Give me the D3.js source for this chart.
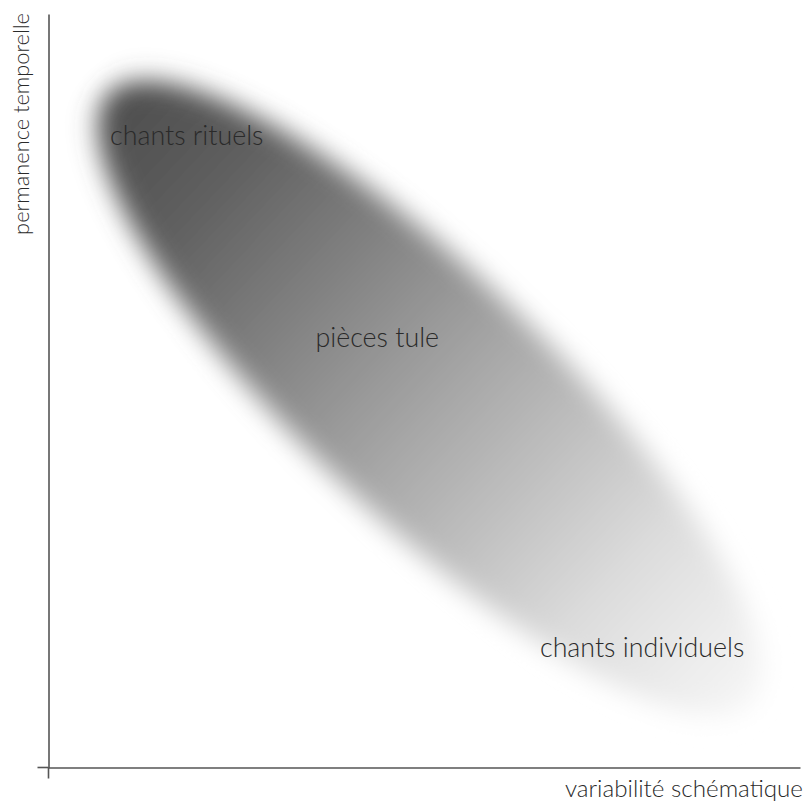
<!DOCTYPE html>
<html>
<head>
<meta charset="utf-8">
<script src="https://cdn.jsdelivr.net/npm/d3@7"></script>
<style>
  html, body { margin: 0; padding: 0; background: #fff; }
  svg { display: block; }
  text { font-family: Lato, "Open Sans", sans-serif; font-weight: 300; fill: #2a2a2a; }
</style>
</head>
<body>
<script>
// ---- data ----
const categories = ["chants rituels", "pièces tule", "chants individuels"];
const labelX = [18.4, 43.75, 79.0];   // variabilité schématique (label centre)
const labelY = [82.6, 55.8, 14.6];    // permanence temporelle (label baseline)
const cloudTipA = [8.0, 89.5];        // ellipse major-axis end (top-left)
const cloudTipB = [93.5, 8.5];        // ellipse major-axis end (bottom-right)
const cloudHalfWidth = 16.3;          // minor semi-axis, in x units
const gradientStops = [0, 0.15, 0.5, 0.8, 1];
const gradientGreys = ["#4c4c4c", "#5e5e5e", "#a4a4a4", "#dddddd", "#f6f6f6"];
const xTitle = "variabilité schématique";
const yTitle = "permanence temporelle";

const W = 806, H = 803;
const svg = d3.select("body").append("svg").attr("width", W).attr("height", H);

const x = d3.scaleLinear().domain([0, 100]).range([48.5, 800]);
const y = d3.scaleLinear().domain([0, 100]).range([767.5, 14]);

const defs = svg.append("defs");
const grad = defs.append("linearGradient").attr("id", "cloudGrad")
  .attr("x1", 0).attr("y1", 0).attr("x2", 1).attr("y2", 0);
gradientStops.forEach((s, i) => grad.append("stop").attr("offset", s).attr("stop-color", gradientGreys[i]));
const filt = defs.append("filter").attr("id", "blur")
  .attr("x", "-30%").attr("y", "-60%").attr("width", "160%").attr("height", "220%");
filt.append("feGaussianBlur").attr("stdDeviation", 13);

// cloud ellipse
const ax = x(cloudTipA[0]), ay = y(cloudTipA[1]);
const bx = x(cloudTipB[0]), by = y(cloudTipB[1]);
const cx = (ax + bx) / 2, cy = (ay + by) / 2;
const rx = Math.hypot(bx - ax, by - ay) / 2;
const ry = x(cloudHalfWidth) - x(0);
const ang = Math.atan2(by - ay, bx - ax) * 180 / Math.PI;
svg.append("g")
  .attr("transform", `translate(${cx},${cy}) rotate(${ang})`)
  .append("ellipse")
  .attr("cx", 0).attr("cy", 0).attr("rx", rx).attr("ry", ry)
  .attr("fill", "url(#cloudGrad)")
  .attr("filter", "url(#blur)");

// axes
const xAxis = d3.axisBottom(x).tickValues([]).tickSizeOuter(0);
const yAxis = d3.axisLeft(y).tickValues([]).tickSizeOuter(0);
const gx = svg.append("g").attr("transform", `translate(0,${y(0)})`).call(xAxis);
const gy = svg.append("g").attr("transform", `translate(${x(0)},0)`).call(yAxis);
[gx, gy].forEach(g => g.select(".domain").attr("stroke", "#555").attr("stroke-width", 1.6));
// axis extensions past origin
svg.append("line").attr("x1", x(0) - 11).attr("x2", x(0)).attr("y1", y(0)).attr("y2", y(0))
  .attr("stroke", "#555").attr("stroke-width", 1.6);
svg.append("line").attr("x1", x(0)).attr("x2", x(0)).attr("y1", y(0)).attr("y2", y(0) + 11)
  .attr("stroke", "#555").attr("stroke-width", 1.6);

// labels
svg.append("g").selectAll("text").data(categories).join("text")
  .attr("x", (d, i) => x(labelX[i]))
  .attr("y", (d, i) => y(labelY[i]))
  .attr("text-anchor", "middle")
  .attr("font-size", 26.8)
  .text(d => d);

svg.append("text").attr("x", 803).attr("y", 797).attr("text-anchor", "end")
  .attr("font-size", 24.2).text(xTitle);
svg.append("text").attr("transform", "translate(29,13) rotate(-90)")
  .attr("text-anchor", "end").attr("font-size", 21.8).text(yTitle);
</script>
</body>
</html>
